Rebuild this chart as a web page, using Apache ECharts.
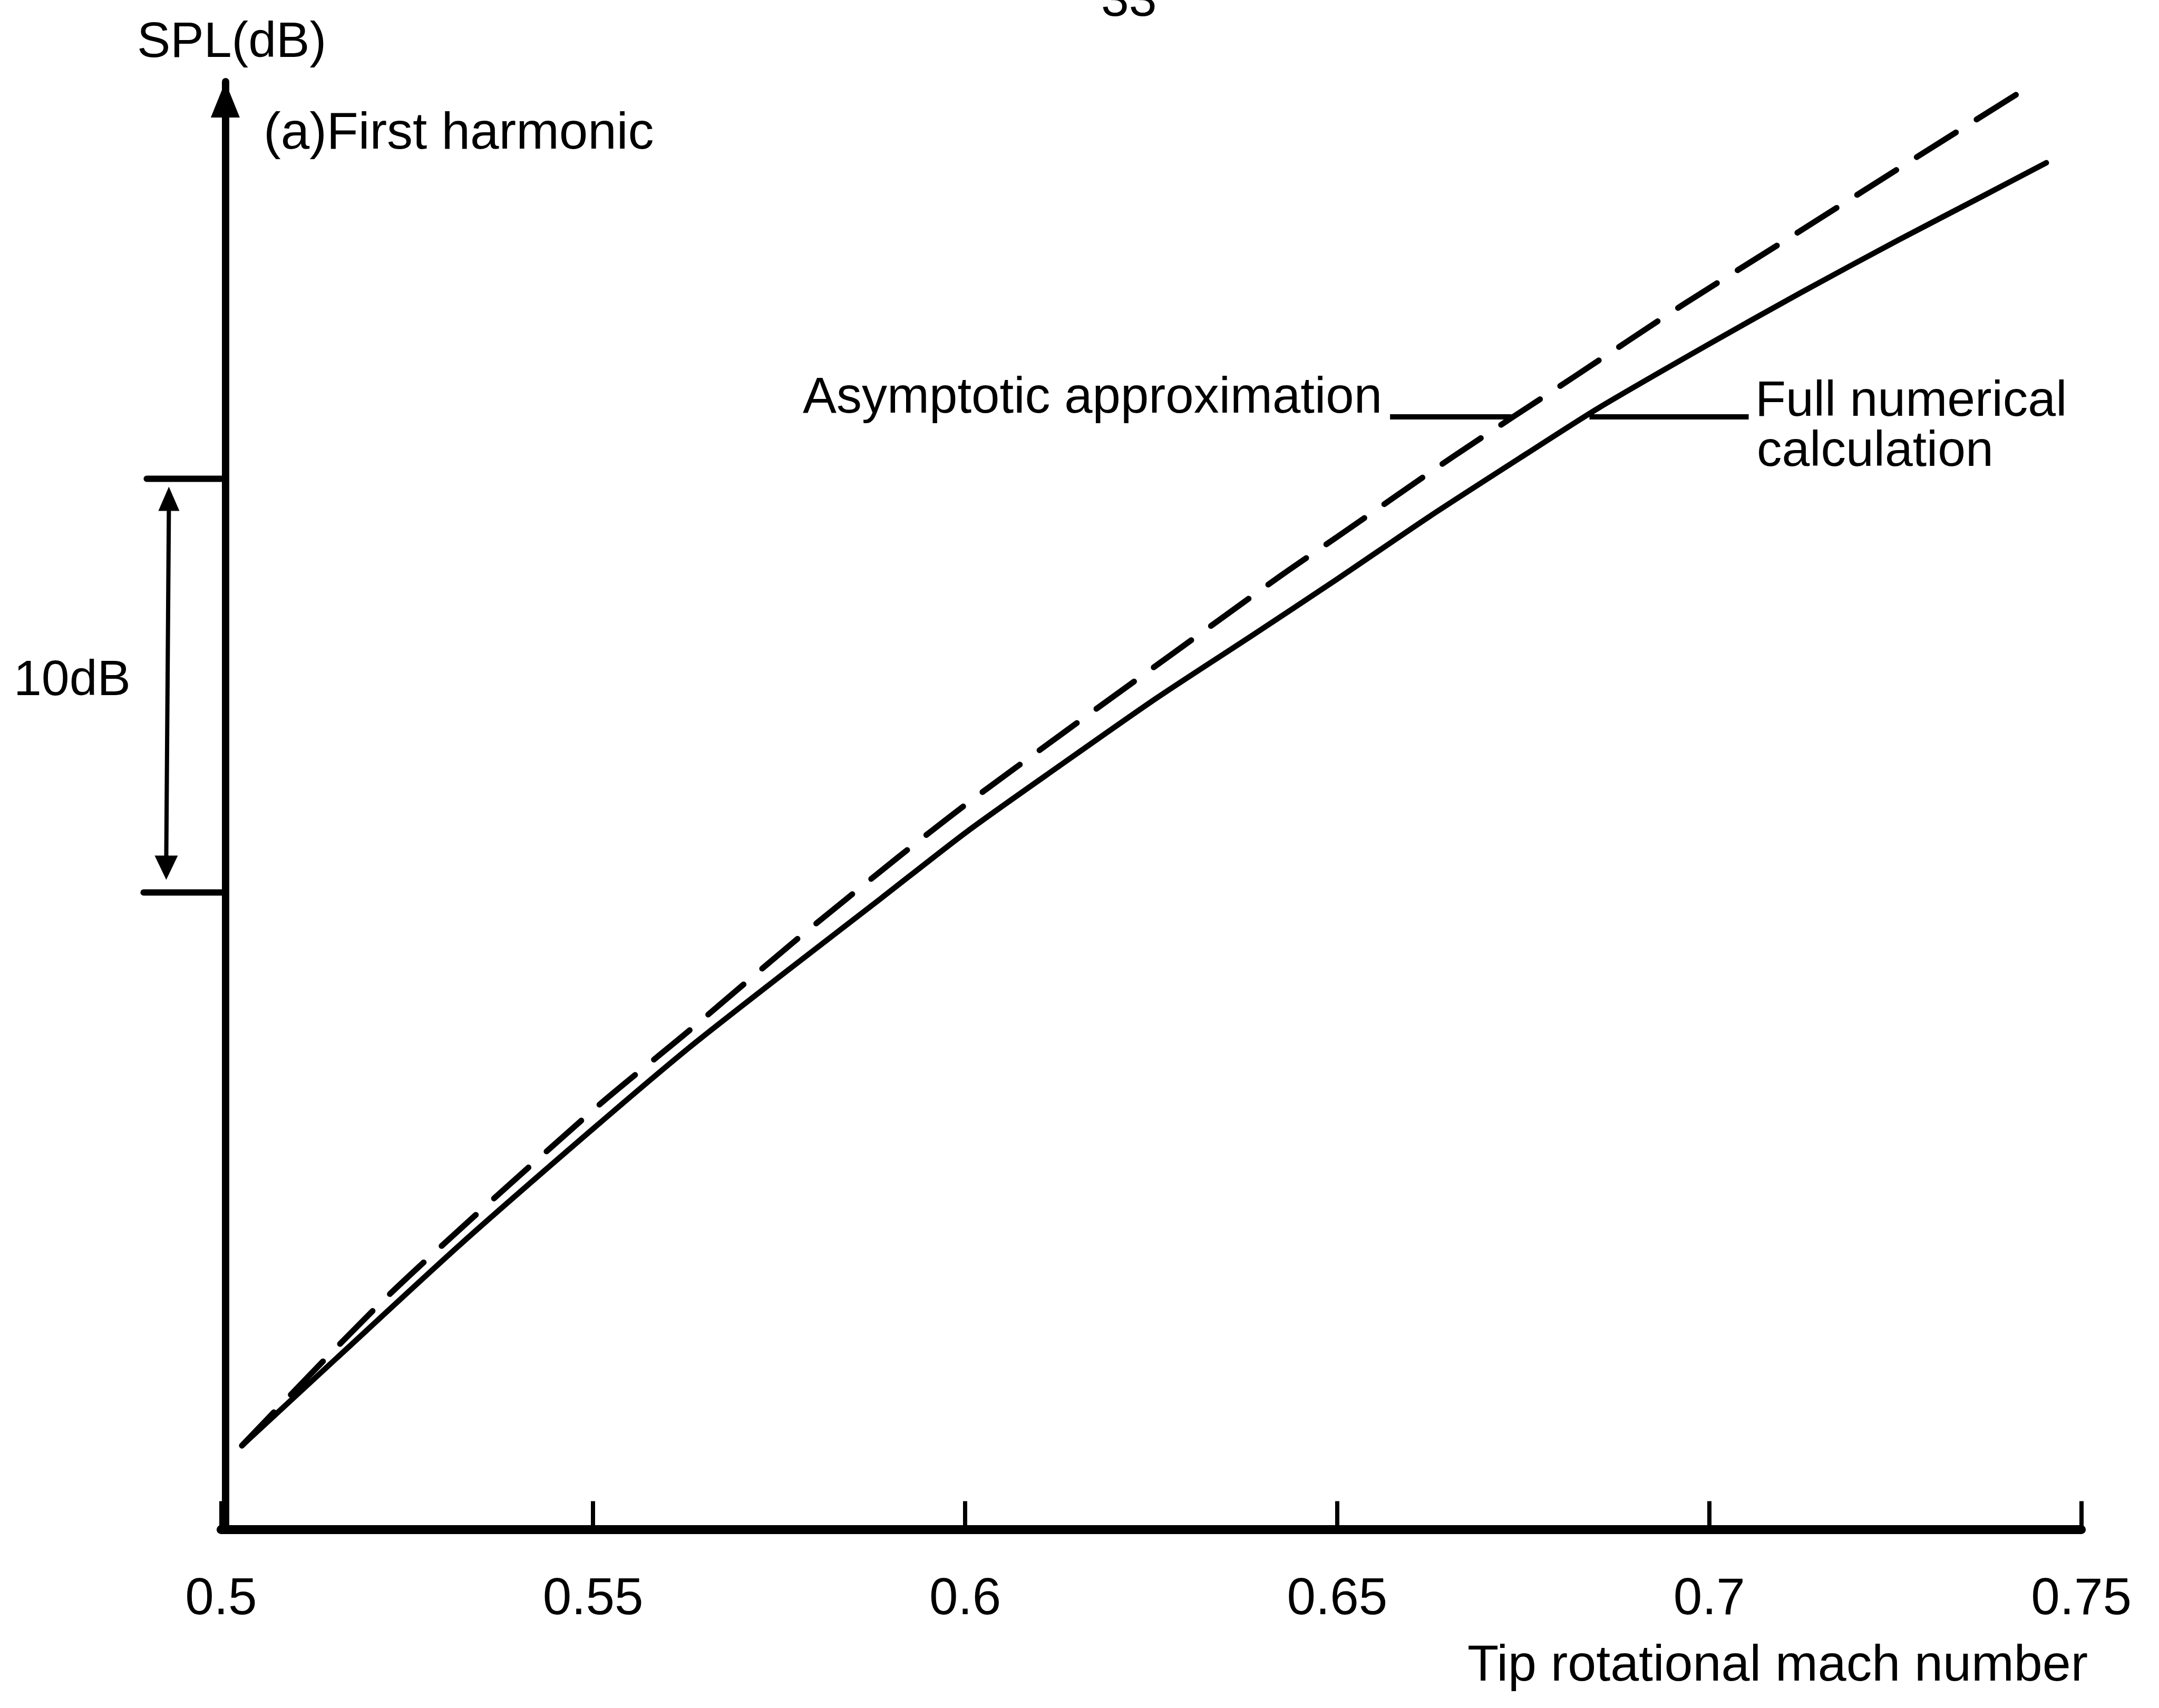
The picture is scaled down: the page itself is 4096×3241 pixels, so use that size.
<!DOCTYPE html>
<html>
<head>
<meta charset="utf-8">
<script src="https://cdn.jsdelivr.net/npm/echarts/dist/echarts.min.js"></script>
<style>
html,body{margin:0;padding:0;background:#fff;}
#chart{width:4096px;height:3241px;}
</style>
</head>
<body>
<div id="chart"></div>
<script>
// ---- data ----
const xTickLabels = ['0.5', '0.55', '0.6', '0.65', '0.7', '0.75'];
// Full numerical calculation (solid)
const machFull = [0.5028, 0.5155, 0.5322, 0.55, 0.5629, 0.5758, 0.5887, 0.6003, 0.6129, 0.6258, 0.6387, 0.6501, 0.6624, 0.6753, 0.685, 0.6998, 0.7124, 0.7253, 0.7366, 0.7453];
const splFull  = [2.03, 4.14, 6.90, 9.69, 11.65, 13.47, 15.26, 16.88, 18.49, 20.11, 21.63, 22.99, 24.49, 25.99, 27.1, 28.64, 29.91, 31.16, 32.22, 33.04];
// Asymptotic approximation (dashed)
const machAsym = [0.5028, 0.5226, 0.55, 0.5629, 0.5768, 0.5909, 0.6001, 0.6135, 0.6277, 0.6425, 0.6501, 0.6656, 0.6817, 0.6963, 0.7115, 0.7272, 0.7418];
const splAsym  = [2.03, 5.68, 10.14, 12.06, 14.18, 16.24, 17.53, 19.30, 21.15, 23.07, 24.01, 25.94, 27.85, 29.59, 31.31, 33.10, 34.75];
// 10 dB scale bar (dB levels)
const scaleBar = [15.4, 25.4];
// leader lines: [x start, x end, level]
const leaderAsym = [0.6571, 0.6734, 26.9];
const leaderFull = [0.6839, 0.7053, 26.9];

const FONT = '"Liberation Sans", Arial, Helvetica, sans-serif';
const chart = echarts.init(document.getElementById('chart'), null, {renderer: 'canvas'});

function txt(text, x, y, size, align) {
  return {
    type: 'text', x: x, y: y, silent: true,
    style: {text: text, fontSize: size, fontFamily: FONT, fill: '#000',
            align: align || 'left', verticalAlign: 'middle'}
  };
}

const option = {
  backgroundColor: '#ffffff',
  animation: false,
  grid: {left: 419.4, right: 147.4, top: 155, bottom: 338.5, containLabel: false},
  xAxis: {
    type: 'value', min: 0.5, max: 0.75, interval: 0.05,
    axisLine: {show: true, onZero: false, lineStyle: {color: '#000', width: 17}},
    axisTick: {show: true, inside: true, length: 54, lineStyle: {color: '#000', width: 8}},
    axisLabel: {
      show: true, margin: 84, fontSize: 98, fontFamily: FONT, color: '#000',
      formatter: function (v) { return xTickLabels[Math.round((v - 0.5) / 0.05)]; }
    },
    splitLine: {show: false}
  },
  yAxis: {
    type: 'value', min: 0, max: 35, offset: -8,
    axisLine: {show: true, onZero: false, symbol: ['none', 'triangle'], symbolSize: [55, 68],
               symbolOffset: [0, -34], lineStyle: {color: '#000', width: 14}},
    axisTick: {show: false}, axisLabel: {show: false}, splitLine: {show: false}
  },
  series: [
    {
      name: 'Full numerical calculation', type: 'line', symbol: 'none', smooth: 0.25,
      data: machFull.map((m, i) => [m, splFull[i]]),
      lineStyle: {color: '#000', width: 10.5, cap: 'round', join: 'round'},
      markLine: {
        silent: true, symbol: ['none', 'none'], label: {show: false},
        lineStyle: {color: '#000', width: 10, type: 'solid'},
        data: [[{coord: [leaderFull[0], leaderFull[2]]}, {coord: [leaderFull[1], leaderFull[2]]}]]
      }
    },
    {
      name: 'Asymptotic approximation', type: 'line', symbol: 'none', smooth: 0.25,
      data: machAsym.map((m, i) => [m, splAsym[i]]),
      lineStyle: {color: '#000', width: 11, type: [88, 46], cap: 'round', join: 'round'},
      markLine: {
        silent: true, symbol: ['none', 'none'], label: {show: false},
        lineStyle: {color: '#000', width: 10, type: 'solid'},
        data: [[{coord: [leaderAsym[0], leaderAsym[2]]}, {coord: [leaderAsym[1], leaderAsym[2]]}]]
      }
    },
    {
      name: '10 dB scale', type: 'custom', clip: false, silent: true,
      data: [[0.5, scaleBar[0], scaleBar[1]]],
      encode: {x: 0, y: [1, 2]},
      renderItem: function (params, api) {
        const lo = api.coord([api.value(0), api.value(1)]);
        const hi = api.coord([api.value(0), api.value(2)]);
        const ax = lo[0] + 8;
        const tl = ax - 149;
        const vx = ax - 107;
        const topTip = hi[1] + 15, botTip = lo[1] - 24;
        const aw = 20, ah = 46;
        return {
          type: 'group',
          children: [
            {type: 'line', shape: {x1: tl, y1: hi[1], x2: ax, y2: hi[1]}, style: {stroke: '#000', lineWidth: 12, lineCap: 'round'}},
            {type: 'line', shape: {x1: tl - 6, y1: lo[1], x2: ax, y2: lo[1]}, style: {stroke: '#000', lineWidth: 12, lineCap: 'round'}},
            {type: 'line', shape: {x1: vx, y1: topTip + ah - 4, x2: vx - 5, y2: botTip - ah + 4}, style: {stroke: '#000', lineWidth: 8}},
            {type: 'polygon', shape: {points: [[vx, topTip], [vx + aw, topTip + ah], [vx - aw, topTip + ah]]}, style: {fill: '#000'}},
            {type: 'polygon', shape: {points: [[vx - 5, botTip], [vx - 5 + aw + 2, botTip - ah], [vx - 5 - aw - 2, botTip - ah]]}, style: {fill: '#000'}}
          ]
        };
      }
    }
  ],
  graphic: [
    txt('33', 2089, 4, 95),
    txt('SPL(dB)', 260, 82, 95),
    txt('(a)First harmonic', 500, 255, 98),
    txt('10dB', 26, 1293, 95),
    txt('Asymptotic approximation', 1523, 757, 96),
    txt('Full numerical', 3330, 763, 95),
    txt('calculation', 3333, 858, 95),
    txt('Tip rotational mach number', 3961, 3162, 97, 'right')
  ]
};
chart.setOption(option);
</script>
</body>
</html>
